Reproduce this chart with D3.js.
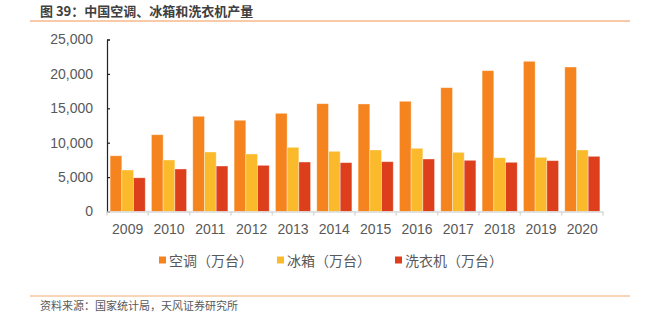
<!DOCTYPE html>
<html><head><meta charset="utf-8">
<script src="https://cdn.jsdelivr.net/npm/d3@7"></script>
<style>body{margin:0;background:#fff}svg{display:block}</style>
</head><body>
<svg id="c" width="651" height="325"></svg>
<script>
const years = ["2009","2010","2011","2012","2013","2014","2015","2016","2017","2018","2019","2020"];
const seriesNames = ["空调（万台）","冰箱（万台）","洗衣机（万台）"];
const airCon = [8100,11160,13840,13260,14270,15670,15630,16020,18000,20470,21830,21000];
const fridge = [6030,7490,8650,8360,9330,8750,8940,9190,8600,7820,7870,8940];
const washer = [4900,6180,6610,6710,7190,7100,7240,7630,7440,7150,7390,8020];
const yTicks = [0,5000,10000,15000,20000,25000];
const colors = ["#F5841F","#FBBA2B","#DD3E1C"];

const svg = d3.select("#c");
const font = "'Liberation Sans', Arial, 'Noto Sans CJK SC', sans-serif";
const cjk = "'Noto Sans CJK SC', 'Liberation Sans', sans-serif";

// title
svg.append("text").attr("x",40).attr("y",16).attr("font-family",cjk).attr("font-size",13)
  .attr("font-weight","bold").attr("fill","#404040").text("图 39：中国空调、冰箱和洗衣机产量");
svg.append("line").attr("x1",30).attr("x2",630).attr("y1",21).attr("y2",21)
  .attr("stroke","#F6B98A").attr("stroke-width",1.5);
svg.append("line").attr("x1",30).attr("x2",630).attr("y1",296).attr("y2",296)
  .attr("stroke","#F6C79F").attr("stroke-width",1.5);
svg.append("text").attr("x",40).attr("y",310).attr("font-family",cjk).attr("font-size",11)
  .attr("fill","#595959").text("资料来源：国家统计局，天风证券研究所");

const x0 = d3.scaleBand().domain(years).range([107,603]).paddingInner(0.15).paddingOuter(0.075);
const x1 = d3.scaleBand().domain([0,1,2]).range([0,x0.bandwidth()]);
const y = d3.scaleLinear().domain([0,25000]).range([211.5,39.5]);

// bars
const data = [airCon, fridge, washer];
years.forEach((yr,i)=>{
  data.forEach((s,j)=>{
    svg.append("rect").attr("x",x0(yr)+x1(j)).attr("width",x1.bandwidth())
      .attr("y",y(s[i])).attr("height",y(0)-y(s[i]))
      .attr("fill",colors[j]).attr("stroke","rgba(255,255,255,0.45)").attr("stroke-width",0.8);
  });
});

// y axis
const ya = svg.append("g").attr("transform","translate(107,0)")
  .call(d3.axisRight(y).tickValues(yTicks).tickSize(3).tickFormat(d3.format(",")));
ya.select(".domain").attr("stroke","#222").attr("stroke-width",1.2);
ya.selectAll(".tick line").attr("stroke","#222").attr("stroke-width",1.2);
ya.selectAll(".tick text").attr("x",-14).attr("text-anchor","end").attr("font-family",font)
  .attr("font-size",14).attr("fill","#595959");

// x axis
const xa = svg.append("g").attr("transform","translate(0,211.5)")
  .call(d3.axisBottom(x0).tickSize(0).tickSizeOuter(0));
xa.select(".domain").attr("stroke","#d9d9d9").attr("stroke-width",1.5);
xa.selectAll(".tick text").attr("dy",0).attr("y",22.5).attr("font-family",font)
  .attr("font-size",14).attr("fill","#595959");
const bounds = years.map(yr=>x0(yr)-x0.step()*x0.paddingInner()/2).concat([603]);
svg.append("g").selectAll("line").data(bounds).join("line")
  .attr("x1",d=>d).attr("x2",d=>d).attr("y1",211.5).attr("y2",215.5)
  .attr("stroke","#d9d9d9").attr("stroke-width",1.5);

// legend
const lx = [159, 277, 395];
seriesNames.forEach((n,j)=>{
  svg.append("rect").attr("x",lx[j]).attr("y",256.5).attr("width",7).attr("height",7).attr("fill",colors[j]);
  svg.append("text").attr("x",lx[j]+10).attr("y",265.5).attr("font-family",cjk).attr("font-size",14)
    .attr("fill","#595959").text(n);
});
</script>
</body></html>
